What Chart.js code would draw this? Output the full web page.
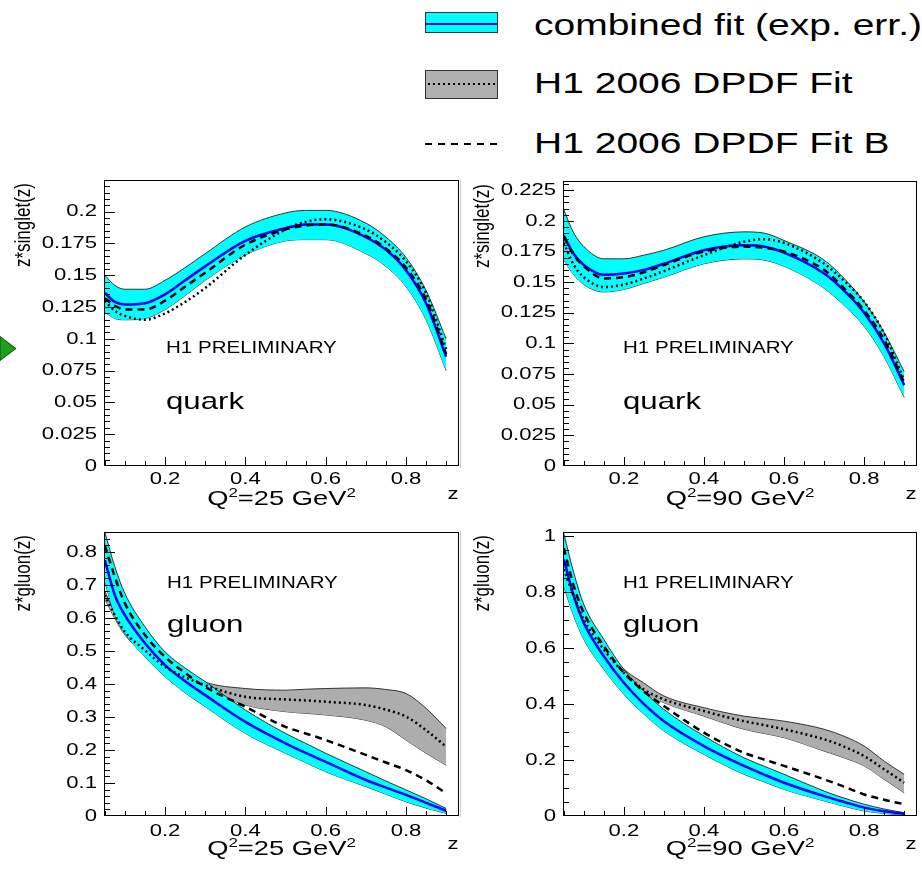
<!DOCTYPE html>
<html>
<head>
<meta charset="utf-8">
<script src="https://cdn.jsdelivr.net/npm/chart.js@4.4.1/dist/chart.umd.min.js"></script>
<style>
  body { margin: 0; background: #fff; }
  #page { position: relative; width: 922px; height: 869px; overflow: hidden; font-family: "Liberation Sans", Arial, sans-serif; }
  canvas { position: absolute; }
  .legText { position: absolute; left: 534px; font-size: 30px; line-height: 30px; white-space: nowrap; transform: scaleX(1.3); transform-origin: 0 0; color: #000; }
  .legBox { position: absolute; left: 425px; width: 71px; border: 1px solid #333; }
</style>
</head>
<body>
<div id="page">
  <div class="legBox" style="top:12px;height:19px;background:#00ffff;">
    <div style="position:absolute;left:0;right:0;top:10px;height:2px;background:#0000ff;"></div>
  </div>
  <div class="legText" style="top:10px;">combined fit (exp. err.)</div>

  <div class="legBox" style="top:70px;height:27px;background:#b0b0b0;">
    <div style="position:absolute;left:2px;right:0;top:12px;height:2px;background:repeating-linear-gradient(to right,#000 0 2px,transparent 2px 5px);"></div>
  </div>
  <div class="legText" style="top:68px;">H1 2006 DPDF Fit</div>

  <div style="position:absolute;left:425px;top:143px;width:73px;height:2px;background:repeating-linear-gradient(to right,#000 0 7px,transparent 7px 13px);"></div>
  <div class="legText" style="top:128px;">H1 2006 DPDF Fit B</div>

  <svg style="position:absolute;left:0;top:336px;" width="18" height="26">
    <polygon points="0,0.5 16,12.5 0,24.5" fill="#1ea01e" stroke="#0b4f0b" stroke-width="1"/>
  </svg>
  <div style="position:absolute;left:460px;top:180px;width:1px;height:288px;background:#cfcfcf;"></div>
  <div style="position:absolute;left:460px;top:531px;width:1px;height:286px;background:#cfcfcf;"></div>
</div>

<script>
const zGrid = [0.05, 0.075, 0.1, 0.15, 0.2, 0.25, 0.3, 0.4, 0.5, 0.55, 0.6, 0.7, 0.75, 0.8, 0.85, 0.9];

// quark singlet, Q2 = 25 GeV2
const quark25Fit  = [0.136, 0.129, 0.127, 0.128, 0.135, 0.146, 0.157, 0.177, 0.187, 0.190, 0.190, 0.180, 0.170, 0.154, 0.128, 0.086];
const quark25Up   = [0.150, 0.142, 0.139, 0.139, 0.146, 0.156, 0.167, 0.188, 0.199, 0.201, 0.201, 0.191, 0.180, 0.164, 0.138, 0.100];
const quark25Lo   = [0.121, 0.116, 0.115, 0.116, 0.123, 0.134, 0.146, 0.166, 0.177, 0.178, 0.178, 0.167, 0.157, 0.141, 0.115, 0.075];
const quark25H1   = [0.130, 0.122, 0.118, 0.115, 0.120, 0.129, 0.140, 0.166, 0.186, 0.192, 0.194, 0.186, 0.176, 0.161, 0.136, 0.092];
const quark25FitB = [0.132, 0.126, 0.123, 0.123, 0.130, 0.141, 0.152, 0.174, 0.186, 0.189, 0.190, 0.181, 0.171, 0.156, 0.131, 0.088];

// quark singlet, Q2 = 90 GeV2
const quark90Fit  = [0.188, 0.173, 0.164, 0.156, 0.157, 0.160, 0.165, 0.176, 0.180, 0.179, 0.174, 0.157, 0.143, 0.125, 0.100, 0.066];
const quark90Up   = [0.209, 0.190, 0.179, 0.169, 0.169, 0.172, 0.176, 0.187, 0.191, 0.190, 0.184, 0.168, 0.153, 0.134, 0.109, 0.077];
const quark90Lo   = [0.168, 0.156, 0.148, 0.142, 0.144, 0.149, 0.154, 0.165, 0.169, 0.168, 0.163, 0.145, 0.131, 0.114, 0.089, 0.056];
const quark90H1   = [0.182, 0.164, 0.154, 0.146, 0.148, 0.153, 0.159, 0.172, 0.183, 0.185, 0.182, 0.165, 0.151, 0.134, 0.108, 0.070];
const quark90FitB = [0.187, 0.172, 0.163, 0.153, 0.154, 0.158, 0.164, 0.175, 0.179, 0.178, 0.175, 0.160, 0.145, 0.127, 0.103, 0.068];

// gluon, Q2 = 25 GeV2
const gluon25Fit  = [0.775, 0.669, 0.608, 0.523, 0.457, 0.408, 0.366, 0.285, 0.220, 0.191, 0.164, 0.109, 0.086, 0.064, 0.040, 0.016];
const gluon25Up   = [0.860, 0.755, 0.674, 0.573, 0.497, 0.448, 0.407, 0.321, 0.250, 0.220, 0.190, 0.134, 0.106, 0.079, 0.052, 0.023];
const gluon25Lo   = [0.710, 0.608, 0.553, 0.482, 0.422, 0.373, 0.331, 0.250, 0.190, 0.162, 0.134, 0.089, 0.066, 0.043, 0.024, 0.008];
const gluon25H1   = [0.669, 0.608, 0.558, 0.502, 0.452, 0.420, 0.396, 0.361, 0.353, 0.350, 0.346, 0.336, 0.322, 0.301, 0.260, 0.210];
const gluon25H1Up = [0.680, 0.618, 0.568, 0.515, 0.466, 0.434, 0.405, 0.386, 0.381, 0.384, 0.386, 0.388, 0.383, 0.371, 0.326, 0.265];
const gluon25H1Lo = [0.658, 0.598, 0.548, 0.490, 0.438, 0.406, 0.385, 0.336, 0.316, 0.311, 0.306, 0.290, 0.270, 0.230, 0.190, 0.154];
const gluon25FitB = [0.820, 0.724, 0.644, 0.548, 0.482, 0.433, 0.391, 0.331, 0.270, 0.250, 0.230, 0.185, 0.162, 0.139, 0.108, 0.069];

// gluon, Q2 = 90 GeV2
const gluon90Fit  = [0.917, 0.786, 0.690, 0.571, 0.476, 0.400, 0.339, 0.250, 0.179, 0.148, 0.119, 0.071, 0.050, 0.030, 0.017, 0.008];
const gluon90Up   = [1.010, 0.869, 0.756, 0.631, 0.524, 0.445, 0.381, 0.286, 0.208, 0.178, 0.149, 0.089, 0.064, 0.042, 0.025, 0.012];
const gluon90Lo   = [0.820, 0.714, 0.631, 0.524, 0.435, 0.364, 0.304, 0.220, 0.149, 0.122, 0.095, 0.054, 0.035, 0.018, 0.009, 0.004];
const gluon90H1   = [0.881, 0.786, 0.702, 0.595, 0.512, 0.452, 0.417, 0.375, 0.339, 0.325, 0.310, 0.274, 0.248, 0.214, 0.167, 0.119];
const gluon90H1Up = [0.895, 0.798, 0.714, 0.608, 0.525, 0.475, 0.429, 0.387, 0.357, 0.348, 0.339, 0.310, 0.285, 0.250, 0.196, 0.149];
const gluon90H1Lo = [0.866, 0.774, 0.690, 0.582, 0.498, 0.440, 0.405, 0.357, 0.310, 0.295, 0.280, 0.232, 0.208, 0.179, 0.131, 0.083];
const gluon90FitB = [0.958, 0.821, 0.726, 0.607, 0.512, 0.445, 0.393, 0.298, 0.226, 0.202, 0.179, 0.131, 0.105, 0.077, 0.058, 0.042];

const STRETCH = 1.3; // the original picture is wider than tall
const FONT = '"Liberation Sans", Arial, sans-serif';

function stretchedText(ctx, text, x, y, size, align, baseline) {
    ctx.save();
    ctx.translate(x, y);
    ctx.scale(STRETCH, 1);
    ctx.font = size + 'px ' + FONT;
    ctx.textAlign = align || 'left';
    ctx.textBaseline = baseline || 'alphabetic';
    ctx.fillText(text, 0, 0);
    ctx.restore();
}

// ROOT-like frame: box, inner ticks, tick labels and titles
const rootFrame = {
    id: 'rootFrame',
    afterDraw(chart, args, opts) {
        const ctx = chart.ctx;
        const a = chart.chartArea;
        const xs = chart.scales.x, ys = chart.scales.y;
        ctx.save();
        ctx.fillStyle = '#000';
        ctx.strokeStyle = '#000';
        ctx.lineWidth = 1;
        ctx.strokeRect(a.left + 0.5, a.top + 0.5, a.right - a.left - 1, a.bottom - a.top - 1);

        ctx.beginPath();
        const nY = Math.floor(ys.max / opts.yMinor + 1e-6);
        for (let i = 1; i <= nY; i++) {
            const v = i * opts.yMinor;
            const r = v / opts.yStep;
            const major = Math.abs(r - Math.round(r)) < 1e-6;
            const py = Math.round(ys.getPixelForValue(v)) + 0.5;
            ctx.moveTo(a.left, py);
            ctx.lineTo(a.left + (major ? 11 : 6), py);
        }
        for (let i = 1; i * 0.05 <= xs.max; i++) {
            const v = i * 0.05;
            if (v < xs.min) continue;
            const px = Math.round(xs.getPixelForValue(v)) + 0.5;
            ctx.moveTo(px, a.bottom);
            ctx.lineTo(px, a.bottom - (i % 4 === 0 ? 9 : 5));
        }
        ctx.stroke();

        // tick labels from the scales' own ticks
        ys.ticks.forEach(t => {
            stretchedText(ctx, String(+t.value.toFixed(3)), a.left - 7, ys.getPixelForValue(t.value), 17, 'right', 'middle');
        });
        xs.ticks.forEach(t => {
            stretchedText(ctx, t.value.toFixed(1), xs.getPixelForValue(t.value), a.bottom + opts.xLabelDy, 17, 'center', 'middle');
        });

        // y title, rotated
        ctx.save();
        ctx.translate(a.left - 80, a.top + 3);
        ctx.rotate(-Math.PI / 2);
        ctx.scale(1, STRETCH);
        ctx.font = '17px ' + FONT;
        ctx.textAlign = 'right';
        ctx.textBaseline = 'middle';
        ctx.fillText(opts.yTitle, 0, 0);
        ctx.restore();

        stretchedText(ctx, 'H1 PRELIMINARY', a.left + opts.textDx, a.top + opts.h1Dy, 15.8);
        stretchedText(ctx, opts.flavour, a.left + opts.textDx, a.top + opts.flavDy, 24);
        stretchedText(ctx, 'z', a.right - 6, a.bottom + 28, 17, 'center', 'middle');

        // Q^2 = .. GeV^2 with superscripts
        const parts = [['Q', 21, 0], ['2', 13, -8], ['=' + opts.q2 + ' GeV', 21, 0], ['2', 13, -8]];
        let total = 0;
        parts.forEach(p => { ctx.font = p[1] + 'px ' + FONT; total += ctx.measureText(p[0]).width; });
        let x = (a.left + a.right) / 2 - total * STRETCH / 2;
        const base = a.bottom + 39;
        parts.forEach(p => {
            ctx.font = p[1] + 'px ' + FONT;
            const w = ctx.measureText(p[0]).width;
            stretchedText(ctx, p[0], x, base + p[2], p[1]);
            x += w * STRETCH;
        });
        ctx.restore();
    }
};

const panels = [
    { flavour: 'quark', q2: '25', yTitle: 'z*singlet(z)', yMax: 0.2249, yStep: 0.025, yMinor: 0.005,
      fit: quark25Fit, up: quark25Up, lo: quark25Lo, h1: quark25H1, fitB: quark25FitB,
      left: 0, top: 170, w: 460, h: 350, padTop: 10, padRight: 1, yw: 104, xh: 54, xLabelDy: 13, textDx: 62, h1Dy: 173, flavDy: 229 },
    { flavour: 'quark', q2: '90', yTitle: 'z*singlet(z)', yMax: 0.2325, yStep: 0.025, yMinor: 0.005,
      fit: quark90Fit, up: quark90Up, lo: quark90Lo, h1: quark90H1, fitB: quark90FitB,
      left: 460, top: 170, w: 462, h: 350, padTop: 11, padRight: 5, yw: 103, xh: 54, xLabelDy: 13, textDx: 60, h1Dy: 172, flavDy: 228 },
    { flavour: 'gluon', q2: '25', yTitle: 'z*gluon(z)', yMax: 0.86, yStep: 0.1, yMinor: 0.02,
      fit: gluon25Fit, up: gluon25Up, lo: gluon25Lo, h1: gluon25H1, h1Up: gluon25H1Up, h1Lo: gluon25H1Lo, fitB: gluon25FitB,
      left: 0, top: 520, w: 460, h: 349, padTop: 12, padRight: 1, yw: 104, xh: 53, xLabelDy: 15, textDx: 63, h1Dy: 56, flavDy: 100 },
    { flavour: 'gluon', q2: '90', yTitle: 'z*gluon(z)', yMax: 1.015, yStep: 0.2, yMinor: 0.05,
      fit: gluon90Fit, up: gluon90Up, lo: gluon90Lo, h1: gluon90H1, h1Up: gluon90H1Up, h1Lo: gluon90H1Lo, fitB: gluon90FitB,
      left: 460, top: 520, w: 462, h: 349, padTop: 12, padRight: 5, yw: 103, xh: 53, xLabelDy: 15, textDx: 60, h1Dy: 56, flavDy: 100 }
];

function curve(values, color, width, dash, order, fillColor) {
    return {
        data: zGrid.map((z, i) => ({ x: z, y: values[i] })),
        borderColor: color,
        borderWidth: width,
        borderDash: dash || [],
        backgroundColor: fillColor || 'transparent',
        fill: fillColor ? '+1' : false,
        pointRadius: 0,
        cubicInterpolationMode: 'monotone',
        order: order
    };
}

Chart.defaults.font.family = FONT;
Chart.defaults.color = '#000';

const page = document.getElementById('page');
panels.forEach(p => {
    const canvas = document.createElement('canvas');
    canvas.width = p.w;
    canvas.height = p.h;
    canvas.style.left = p.left + 'px';
    canvas.style.top = p.top + 'px';
    page.appendChild(canvas);

    const datasets = [];
    if (p.h1Up) {
        datasets.push(curve(p.h1Up, '#333', 1, null, 6, '#adadad'));
        datasets.push(curve(p.h1Lo, '#333', 1, null, 6));
    }
    datasets.push(curve(p.up, '#333', 1, null, 5, '#00ffff'));
    datasets.push(curve(p.lo, '#333', 1, null, 5));
    datasets.push(curve(p.fit, '#0000ff', 2.5, null, 3));
    datasets.push(curve(p.h1, '#000', 2.5, [2, 3], 2));
    datasets.push(curve(p.fitB, '#000', 2.5, [7, 5], 1));

    new Chart(canvas.getContext('2d'), {
        type: 'line',
        data: { datasets: datasets },
        plugins: [rootFrame],
        options: {
            responsive: false,
            animation: false,
            devicePixelRatio: 1,
            layout: { padding: { top: p.padTop, right: p.padRight, left: 0, bottom: 0 } },
            plugins: {
                legend: { display: false },
                tooltip: { enabled: false },
                rootFrame: { yTitle: p.yTitle, flavour: p.flavour, q2: p.q2, yStep: p.yStep, yMinor: p.yMinor,
                             xLabelDy: p.xLabelDy, textDx: p.textDx, h1Dy: p.h1Dy, flavDy: p.flavDy }
            },
            scales: {
                x: {
                    type: 'linear',
                    min: 0.048,
                    max: 0.932,
                    grid: { display: false, drawTicks: false },
                    border: { display: false },
                    ticks: { display: false, stepSize: 0.2, includeBounds: false, autoSkip: false, maxRotation: 0 },
                    afterFit(s) { s.height = p.xh; s.paddingLeft = 0; s.paddingRight = 0; }
                },
                y: {
                    min: 0,
                    max: p.yMax,
                    grid: { display: false, drawTicks: false },
                    border: { display: false },
                    ticks: { display: false, stepSize: p.yStep, includeBounds: false, autoSkip: false },
                    afterFit(s) { s.width = p.yw; s.paddingTop = 0; s.paddingBottom = 0; }
                }
            }
        }
    });
});
</script>
</body>
</html>
